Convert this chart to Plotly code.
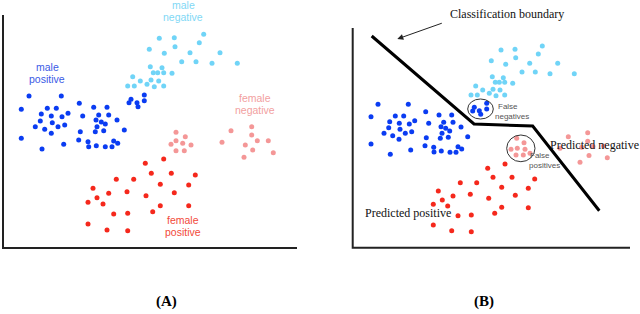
import plotly.graph_objects as go

# ---------------- Panel A data (pixel-space coordinates) ----------------
a_male_pos_x = [29, 61.3, 21.3, 47.3, 56.3, 79.3, 93.7, 107, 41.3, 51.3, 62, 68, 82.7, 98.7, 108.7,
                40.3, 52.3, 96, 101.3, 105.3, 117, 35.3, 44.7, 58, 64.7, 97, 51.3, 80.3, 95.3, 103.7,
                124.3, 21.3, 63.7, 42, 78.7, 88, 113.7, 117.7, 88.7, 96.3, 105.3, 112,
                129, 131, 137, 138, 144.3, 144.3]
a_male_pos_y = [96, 96, 109.3, 108.3, 108.3, 103.3, 107.3, 107.3, 114, 116, 116.7, 113.3, 116, 115, 115,
                121, 122.7, 120, 122, 124, 120, 126.7, 129.3, 126.7, 125, 126.7, 133.3, 131.7, 131.7, 130.7,
                130, 138.3, 144.3, 149, 140, 141.7, 141, 143.3, 146.7, 145.7, 146.7, 146.7,
                102.7, 99.3, 102.7, 106.7, 95, 100.7]
a_male_neg_x = [159.3, 174.3, 203.7, 199.3, 149.3, 175, 164.3, 190, 220, 181.7, 196, 212, 237.3, 150.3,
                162, 153.3, 157.7, 163.7, 172, 132.7, 140.3, 151, 158.7, 147, 127.7, 134.3, 154.3, 163.7]
a_male_neg_y = [38.3, 37.7, 34.3, 42.7, 49.3, 46.7, 53.3, 52.7, 52.7, 61.7, 61.7, 63.3, 63.3, 66.7,
                67.7, 72.7, 72.7, 72.7, 73.3, 76.7, 81, 80, 81, 84.3, 86, 86, 86.7, 86]
a_fem_neg_x = [176, 185.3, 176, 171, 182.7, 191, 176, 184.3,
               231, 251.7, 251.7, 222, 257.3, 268.3, 245.3, 252.7, 273.3, 244]
a_fem_neg_y = [132.3, 136.7, 140.7, 144.3, 143.3, 145, 150.7, 150.7,
               130.7, 126.7, 135, 142.3, 140.7, 140.7, 145, 150, 152.7, 157.3]
a_fem_pos_x = [163.7, 145.3, 151.3, 171.3, 195.3, 116.3, 133.7, 160.3, 188.7, 93, 108.7, 127, 146,
               174.3, 97, 88, 103, 160.3, 188.7, 113.7, 127.7, 152.7, 88, 107, 127.7]
a_fem_pos_y = [159, 163.3, 173.3, 173.3, 175, 179.3, 179.3, 184.3, 185, 188.3, 193.3, 191.7, 195.7,
               192.7, 197.7, 202.3, 204, 205.7, 205.7, 214, 213.3, 211.7, 224, 230, 230.7]

# ---------------- Panel B data ----------------
b_male_pos_x = [378, 408.3, 371, 395.3, 403.7, 425.7, 439, 451.7, 389.7, 399.3, 409.3, 414.7, 428.7,
                443.7, 453, 388.7, 400, 441, 445.7, 449.7, 461, 384, 392.7, 405.3, 411.7, 442, 399,
                426.3, 440.3, 448.3, 467.7, 371, 390.3, 410.7, 425, 433.7, 458, 461.7, 434, 441.3,
                450, 456]
b_male_pos_y = [104.3, 104.3, 116.7, 116, 116, 111.7, 115, 115, 121.7, 123.3, 124, 120.7, 123.3,
                122.3, 122.3, 127.7, 129.3, 126.7, 128.3, 131, 127, 133.3, 135.7, 133.3, 131.7, 133.3,
                139.3, 137.7, 138.3, 137.3, 136.7, 144, 154.3, 150, 145.7, 147.3, 146.7, 149, 152,
                151, 152.3, 152.3]
b_false_neg_x = [474.3, 472.7, 479.3, 480.7, 486.7, 486.7]
b_false_neg_y = [107.3, 111, 110.7, 114.3, 103.3, 109]
b_male_neg_x = [501, 515, 542.3, 538.3, 491.3, 515.7, 505.7, 529.7, 557.7, 522, 535.3, 550, 574.3,
                492.3, 503.3, 495.3, 499.3, 504.7, 512.7, 475.7, 482.7, 493, 500, 489.3, 471, 477.3,
                496, 504.7]
b_male_neg_y = [50, 49.3, 46, 54, 60.7, 57.7, 64.3, 63.3, 63.3, 72, 72, 73.7, 73.7, 76.7, 77.7,
                82.3, 82.3, 82.3, 83.3, 86, 90, 89.3, 90, 93.3, 95, 95, 95.7, 95]
b_false_pos_x = [516.7, 524, 511, 517.3, 525, 530, 516, 523.3]
b_false_pos_y = [138.3, 142.7, 149.3, 148.3, 149.3, 153.3, 155, 155]
b_fem_neg_x = [568.3, 587.7, 587.7, 560, 593, 603.5, 581.7, 589, 607.3, 580]
b_fem_neg_y = [136.7, 132.7, 141.3, 148.3, 146.5, 146, 147.3, 155.5, 157.7, 162.3]
b_fem_pos_x = [505, 487.7, 493, 512, 534.7, 460.3, 476.7, 501.7, 528.3, 438.3, 453, 470.3, 488.7,
               515.3, 442.3, 433.3, 447.7, 501.7, 528.3, 458, 471.3, 494.7, 433.3, 451.7, 471.3]
b_fem_pos_y = [164, 168.3, 177.3, 177.3, 179, 182.7, 182.7, 187.3, 188.3, 191, 196, 194.3, 198.3,
               195.3, 200, 204.3, 206, 207.3, 207.7, 215.7, 215, 213.3, 225, 230.7, 231.7]

boundary_x = [371.7, 474, 532.7, 599.3]
boundary_y = [36, 124, 126, 210.7]

axes_a_x = [3, 3, 297]
axes_a_y = [15, 248, 248]
axes_b_x = [352.7, 352.7, 630]
axes_b_y = [28, 247.7, 247.7]

BLUE = "#0a3cf2"
CYAN = "#70d4f7"
RED = "#f5281c"
PINK = "#f49797"

fig = go.Figure()


def dots(x, y, color):
    fig.add_trace(go.Scatter(x=x, y=y, mode="markers",
                             marker=dict(size=5, color=color, line=dict(width=0)),
                             hoverinfo="skip", showlegend=False))


def line(x, y, width, color):
    fig.add_trace(go.Scatter(x=x, y=y, mode="lines",
                             line=dict(width=width, color=color),
                             hoverinfo="skip", showlegend=False))


line(axes_a_x, axes_a_y, 2, "#222222")
line(axes_b_x, axes_b_y, 2, "#222222")

dots(a_male_pos_x, a_male_pos_y, BLUE)
dots(a_male_neg_x, a_male_neg_y, CYAN)
dots(a_fem_neg_x, a_fem_neg_y, PINK)
dots(a_fem_pos_x, a_fem_pos_y, RED)

dots(b_male_pos_x, b_male_pos_y, BLUE)
dots(b_false_neg_x, b_false_neg_y, BLUE)
dots(b_male_neg_x, b_male_neg_y, CYAN)
dots(b_false_pos_x, b_false_pos_y, PINK)
dots(b_fem_neg_x, b_fem_neg_y, PINK)
dots(b_fem_pos_x, b_fem_pos_y, RED)

line(boundary_x, boundary_y, 3, "#000000")

# ellipses around false negatives / positives
fig.add_shape(type="circle", xref="x", yref="y", x0=467.7, x1=493.3, y0=99, y1=119,
              line=dict(color="#333333", width=1))
fig.add_shape(type="circle", xref="x", yref="y", x0=506.7, x1=535, y0=135, y1=161.7,
              line=dict(color="#333333", width=1))

SANS = "Liberation Sans, Arial, sans-serif"
SERIF = "Liberation Serif, Times New Roman, serif"

ann = []


def label(x, y, text, size, color, family, xanchor="center", bold=False):
    ann.append(dict(x=x, y=y, xref="x", yref="y", text=("<b>%s</b>" % text) if bold else text,
                    showarrow=False, xanchor=xanchor, yanchor="middle",
                    font=dict(size=size, color=color, family=family)))


label(47, 67, "male", 10.5, "#3a5ae6", SANS)
label(47, 79, "positive", 10.5, "#3a5ae6", SANS)
label(183, 5, "male", 10.5, "#7fd8f5", SANS)
label(183, 17, "negative", 10.5, "#7fd8f5", SANS)
label(255, 98, "female", 10.5, "#f2a0a0", SANS)
label(255, 110, "negative", 10.5, "#f2a0a0", SANS)
label(183, 220, "female", 10.5, "#f24a3a", SANS)
label(183, 232, "positive", 10.5, "#f24a3a", SANS)

label(506.7, 14, "Classification boundary", 12, "#111111", SERIF)
label(507.7, 106, "False", 8, "#555555", SANS)
label(511.7, 116, "negatives", 8, "#555555", SANS)
label(540, 155.3, "False", 8, "#555555", SANS)
label(544, 165.7, "positives", 8, "#555555", SANS)
label(547.7, 145.3, "Predicted negative", 12, "#111111", SERIF, xanchor="left")
label(363.3, 213.3, "Predicted positive", 12, "#111111", SERIF, xanchor="left")

label(166, 301, "(A)", 15, "#000000", SERIF, bold=True)
label(484, 301, "(B)", 15, "#000000", SERIF, bold=True)

ann.append(dict(x=397.3, y=39, ax=443.3, ay=22.7, xref="x", yref="y", axref="x", ayref="y",
                text="", showarrow=True, arrowhead=2, arrowsize=1.2, arrowwidth=1,
                arrowcolor="#222222"))

fig.update_layout(
    width=640, height=314,
    margin=dict(l=0, r=0, t=0, b=0),
    paper_bgcolor="white", plot_bgcolor="white",
    xaxis=dict(range=[0, 640], visible=False, fixedrange=True),
    yaxis=dict(range=[314, 0], visible=False, fixedrange=True),
    annotations=ann,
)

fig.write_html("out.html", config={"displayModeBar": False},
               post_script="document.body.style.margin='0';document.body.style.overflow='hidden';")
